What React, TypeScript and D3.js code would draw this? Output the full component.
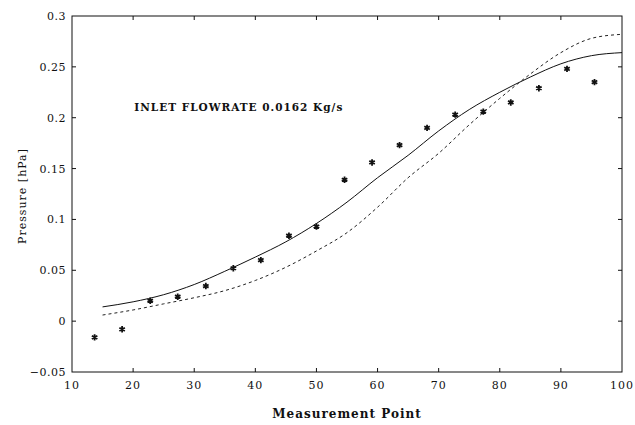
import React, { useRef, useEffect } from 'react';
import * as d3 from 'd3';

// measured points (asterisks)
const measX = [13.7, 18.2, 22.8, 27.3, 31.9, 36.4, 40.9, 45.5, 50, 54.6, 59.1, 63.6, 68.1, 72.7, 77.3, 81.8, 86.4, 91, 95.5];
const measY = [-0.016, -0.008, 0.02, 0.024, 0.0345, 0.052, 0.06, 0.084, 0.093, 0.139, 0.156, 0.173, 0.19, 0.203, 0.206, 0.215, 0.229, 0.248, 0.235];

// model curves
const curveX = [15, 20, 25, 30, 35, 40, 45, 50, 55, 60, 65, 70, 75, 80, 85, 90, 95, 100];
const solidY = [0.014, 0.019, 0.026, 0.036, 0.049, 0.063, 0.078, 0.096, 0.117, 0.141, 0.163, 0.187, 0.208, 0.225, 0.240, 0.253, 0.261, 0.264];
const dashedY = [0.006, 0.011, 0.017, 0.023, 0.030, 0.040, 0.053, 0.069, 0.087, 0.112, 0.141, 0.165, 0.193, 0.219, 0.243, 0.264, 0.278, 0.282];

const xTicks = [10, 20, 30, 40, 50, 60, 70, 80, 90, 100];
const yTicks = [-0.05, 0, 0.05, 0.1, 0.15, 0.2, 0.25, 0.3];

const W = 635;
const H = 425;
const margin = { top: 16, right: 13, bottom: 53, left: 72 };
const font = '"DejaVu Serif", serif';

const App = () => {
  const svgRef = useRef<SVGSVGElement>(null);

  useEffect(() => {
    const svg = d3.select(svgRef.current);
    svg.selectAll('*').remove();

    const innerW = W - margin.left - margin.right;
    const innerH = H - margin.top - margin.bottom;

    const x = d3.scaleLinear().domain([10, 100]).range([0, innerW]);
    const y = d3.scaleLinear().domain([-0.05, 0.3]).range([innerH, 0]);

    const g = svg.append('g').attr('transform', `translate(${margin.left},${margin.top})`);

    // frame
    g.append('rect')
      .attr('width', innerW)
      .attr('height', innerH)
      .attr('fill', 'none')
      .attr('stroke', '#111')
      .attr('stroke-width', 1);

    // ticks (inward, on all four sides)
    const tl = 4;
    xTicks.slice(1, -1).forEach(t => {
      g.append('line').attr('x1', x(t)).attr('x2', x(t)).attr('y1', innerH).attr('y2', innerH - tl).attr('stroke', '#111');
      g.append('line').attr('x1', x(t)).attr('x2', x(t)).attr('y1', 0).attr('y2', tl).attr('stroke', '#111');
    });
    yTicks.slice(1, -1).forEach(t => {
      g.append('line').attr('x1', 0).attr('x2', tl).attr('y1', y(t)).attr('y2', y(t)).attr('stroke', '#111');
      g.append('line').attr('x1', innerW).attr('x2', innerW - tl).attr('y1', y(t)).attr('y2', y(t)).attr('stroke', '#111');
    });

    // tick labels
    g.selectAll('.xl')
      .data(xTicks)
      .enter().append('text')
      .attr('x', d => x(d))
      .attr('y', innerH + 17)
      .attr('text-anchor', 'middle')
      .attr('font-family', font)
      .attr('font-size', 11)
      .attr('letter-spacing', 1)
      .attr('fill', '#111')
      .text(d => String(d));

    g.selectAll('.yl')
      .data(yTicks)
      .enter().append('text')
      .attr('x', -6)
      .attr('y', d => y(d) + 4)
      .attr('text-anchor', 'end')
      .attr('font-family', font)
      .attr('font-size', 11)
      .attr('letter-spacing', 0.5)
      .attr('fill', '#111')
      .text(d => (d < 0 ? '\u22120.05' : String(d)));

    // curves
    const line = d3.line<number>()
      .x((d, i) => x(curveX[i]))
      .y(d => y(d))
      .curve(d3.curveMonotoneX);

    g.append('path')
      .attr('d', line(solidY))
      .attr('fill', 'none')
      .attr('stroke', '#111')
      .attr('stroke-width', 1);

    g.append('path')
      .attr('d', line(dashedY))
      .attr('fill', 'none')
      .attr('stroke', '#222')
      .attr('stroke-width', 1)
      .attr('stroke-dasharray', '3,3');

    // measured points
    const sym = d3.symbol().type(d3.symbolAsterisk).size(28);
    g.selectAll('.pt')
      .data(measX)
      .enter().append('path')
      .attr('transform', (d, i) => `translate(${x(d)},${y(measY[i])})`)
      .attr('d', sym())
      .attr('fill', 'none')
      .attr('stroke', '#111')
      .attr('stroke-width', 1.8);

    // annotation
    g.append('text')
      .attr('x', x(20.2))
      .attr('y', y(0.207))
      .attr('font-family', font)
      .attr('font-size', 10.5)
      .attr('font-weight', 'bold')
      .attr('letter-spacing', 1)
      .attr('fill', '#111')
      .text('INLET FLOWRATE 0.0162 Kg/s');

    // axis titles
    svg.append('text')
      .attr('x', margin.left + innerW / 2)
      .attr('y', 418)
      .attr('text-anchor', 'middle')
      .attr('font-family', font)
      .attr('font-size', 12)
      .attr('font-weight', 'bold')
      .attr('letter-spacing', 1)
      .attr('fill', '#111')
      .text('Measurement Point');

    svg.append('text')
      .attr('transform', `translate(26,${196}) rotate(-90)`)
      .attr('text-anchor', 'middle')
      .attr('font-family', font)
      .attr('font-size', 11)
      .attr('letter-spacing', 1)
      .attr('fill', '#111')
      .text('Pressure [hPa]');
  }, []);

  return (
    <div style={{ position: 'absolute', left: 0, top: 0 }}>
      <svg ref={svgRef} width={W} height={H} style={{ display: 'block', background: '#fff' }} />
    </div>
  );
};

export default App;
